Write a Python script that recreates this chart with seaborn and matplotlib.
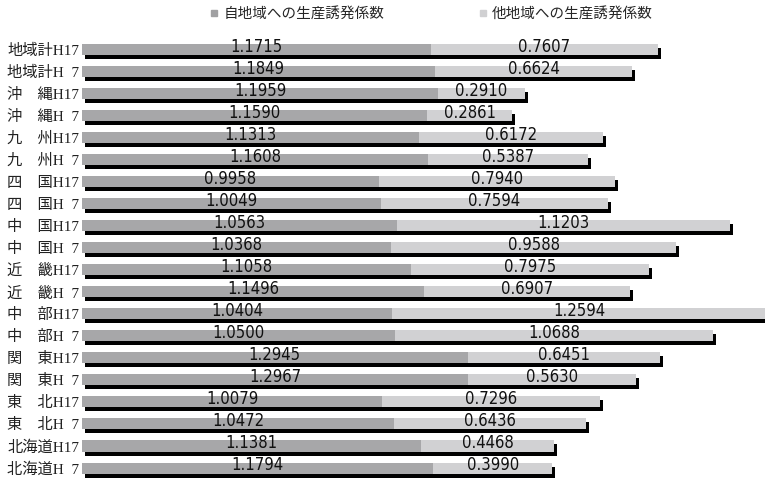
import matplotlib
matplotlib.use("Agg")
import matplotlib.pyplot as plt
import seaborn as sns
import pandas as pd
from matplotlib.transforms import ScaledTranslation
from matplotlib.lines import Line2D

categories = ["地域計H17", "地域計H  7", "沖　縄H17", "沖　縄H  7", "九　州H17", "九　州H  7",
              "四　国H17", "四　国H  7", "中　国H17", "中　国H  7", "近　畿H17", "近　畿H  7",
              "中　部H17", "中　部H  7", "関　東H17", "関　東H  7", "東　北H17", "東　北H  7",
              "北海道H17", "北海道H  7"]
self_region = [1.1715, 1.1849, 1.1959, 1.1590, 1.1313, 1.1608, 0.9958, 1.0049, 1.0563, 1.0368,
               1.1058, 1.1496, 1.0404, 1.0500, 1.2945, 1.2967, 1.0079, 1.0472, 1.1381, 1.1794]
other_region = [0.7607, 0.6624, 0.2910, 0.2861, 0.6172, 0.5387, 0.7940, 0.7594, 1.1203, 0.9588,
                0.7975, 0.6907, 1.2594, 1.0688, 0.6451, 0.5630, 0.7296, 0.6436, 0.4468, 0.3990]
series_names = ["自地域への生産誘発係数", "他地域への生産誘発係数"]

DARK = "#A7A7A9"
LIGHT = "#D1D1D3"

sns.set_theme(style="white")
plt.rcParams["font.family"] = ["Noto Sans CJK JP", "DejaVu Sans"]

df = pd.DataFrame({"cat": categories, "self": self_region, "other": other_region})
df["total"] = df["self"] + df["other"]

fig = plt.figure(figsize=(7.65, 4.8), dpi=100)
ax = fig.add_axes([0.1072, 0.002, 0.8928, 0.918])

# shadow
sns.barplot(data=df, x="total", y="cat", color="black", width=0.5, saturation=1,
            errorbar=None, orient="h", ax=ax)
off = ScaledTranslation(3 / 100, -4 / 100, fig.dpi_scale_trans)
for p in ax.patches:
    p.set_transform(ax.transData + off)
    p.set_linewidth(0)
sns.barplot(data=df, x="total", y="cat", color=LIGHT, width=0.5, saturation=1,
            errorbar=None, orient="h", ax=ax, linewidth=0)
sns.barplot(data=df, x="self", y="cat", color=DARK, width=0.5, saturation=1,
            errorbar=None, orient="h", ax=ax, linewidth=0)

for i, (s, o) in enumerate(zip(self_region, other_region)):
    ax.text(s / 2, i - 0.12, f"{s:.4f}", ha="center", va="center", fontsize=12,
            family="DejaVu Sans", fontstretch="condensed", color="#111111")
    ax.text(s + o / 2, i - 0.12, f"{o:.4f}", ha="center", va="center", fontsize=12,
            family="DejaVu Sans", fontstretch="condensed", color="#111111")

ax.set_xlim(0, 2.293)
ax.set_ylim(len(categories) - 0.5, -0.5)
ax.set_xticks([])
ax.set_yticks(range(len(categories)))
ax.set_yticklabels(categories, family=["Liberation Serif", "Noto Sans CJK JP"], fontsize=11,
                   color="#222222")
ax.tick_params(axis="y", length=0, pad=2)
ax.set_xlabel("")
ax.set_ylabel("")
for sp in ax.spines.values():
    sp.set_visible(False)

handles = [Line2D([], [], marker="s", color="#A0A0A2", ls="", markersize=5),
           Line2D([], [], marker="s", color="#D0D0D2", ls="", markersize=5)]
fig.legend(handles, series_names, loc="upper center", bbox_to_anchor=(0.564, 1.012), ncol=2,
           frameon=False, fontsize=10.5, handlelength=0.6, handletextpad=0.3, columnspacing=6.5)

fig.savefig("out.png", dpi=100)
